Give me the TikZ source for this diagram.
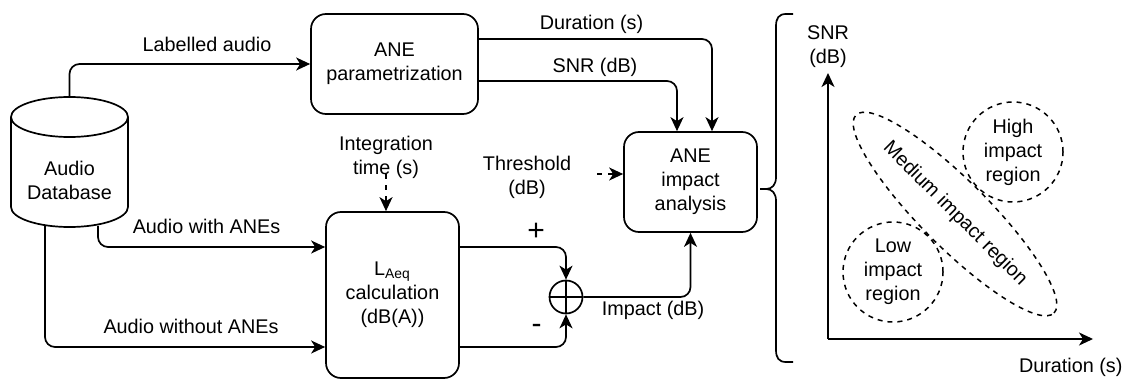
\documentclass[tikz,border=0pt]{standalone}
\usepackage{fontspec}
\setmainfont{Liberation Sans}
\usetikzlibrary{calc, positioning, arrows.meta, shapes.geometric}

\tikzset{
  box/.style={draw, rounded corners=7.5pt, align=center, inner sep=0pt},
  flow/.style={-{Stealth[length=7pt, width=6.5pt, inset=2pt]}, rounded corners=5pt},
  dflow/.style={flow, dash pattern=on 2.5pt off 3pt},
  region/.style={draw, dash pattern=on 2.5pt off 2.5pt, line width=0.75pt, align=center, inner sep=0pt},
  lbl/.style={anchor=base, inner sep=0pt},
  sign/.style={inner sep=0pt, font=\fontsize{15}{17}\selectfont},
}

\begin{document}
\begin{tikzpicture}[x=0.5pt, y=-0.5pt, line width=0.85pt, font=\fontsize{9.9}{12}\selectfont]

  \useasboundingbox (0,0) rectangle (1127,379);

  % database
  \draw[fill=white] (11,117) -- (11,207) arc[start angle=180, end angle=0, x radius=58.5, y radius=20] -- (128,117);
  \draw (69.5,117) ellipse[x radius=58.5, y radius=20];
  \node[minimum width=58.5pt, minimum height=65pt, inner sep=0pt,
        label={[align=center, yshift=-9pt]center:{Audio\\Database}}] (db) at (69.5,162) {};

  % blocks
  \node[box, minimum width=83.5pt, minimum height=50pt] (param) at (394.5,64) {ANE\\parametrization};
  \node[box, minimum width=66.5pt, minimum height=83pt] (laeq) at (392.5,295) {L\textsubscript{Aeq}\\calculation\\(dB(A))};
  \node[box, minimum width=66.5pt, minimum height=50pt] (ana) at (690.5,182) {ANE\\impact\\analysis};
  \node[draw, circle, minimum size=16.5pt, inner sep=0pt] (sum) at (566,297) {};
  \draw (sum.north) -- (sum.south) (sum.west) -- (sum.east);

  % inputs
  \node[align=center, inner sep=0pt] (integ) at (386,157) {Integration\\time (s)};
  \node[align=center, inner sep=0pt] (thr) at (527,177) {Threshold\\(dB)};
  \coordinate (thr-end) at (597,174);

  \draw[dflow] (integ.south) ++(0,-5) -- (integ.south |- laeq.north);
  \draw[dflow] (thr-end) -- (thr-end -| ana.west);

  % audio paths
  \draw[flow] (db.north) |- (param.west);
  \draw[flow] ($(db.south)+(28.5,-2)$) |- ($(laeq.west)+(0,-48)$);
  \draw[flow] ($(db.south)+(-24.5,-2)$) |- ($(laeq.west)+(0,52)$);
  \node[lbl] (lbl-labelled) at (207,52) {Labelled audio};
  \node[lbl] (lbl-with) at (206.5,233) {Audio with ANEs};
  \node[lbl] (lbl-without) at (191,333) {Audio without ANEs};

  % parameters
  \draw[flow] ($(param.east)+(0,-25)$) -| ($(ana.north)+(21.5,0)$);
  \draw[flow] ($(param.east)+(0,17)$) -| ($(ana.north)+(-13.5,0)$);
  \node[lbl] (lbl-dur) at (591.5,30) {Duration (s)};
  \node[lbl] (lbl-snr) at (595,73) {SNR (dB)};

  % difference
  \draw[flow] ($(laeq.east)+(0,-48)$) -| (sum.north);
  \draw[flow] ($(laeq.east)+(0,52)$) -| (sum.south);
  \draw[flow] (sum.east) -| (ana.south);
  \node[sign] (plus) at (536,232) {+};
  \node[sign] (minus) at (536.5,329) {-};
  \node[lbl] (lbl-impact) at (653,315) {Impact (dB)};

  % brace
  \draw (793,14) -- (786,14) .. controls (779,14) and (776,18) .. (776,26) -- (776,177)
        .. controls (776,185) and (772,189) .. (766,189) -- (760,189);
  \draw (766,189) .. controls (772,189) and (776,193) .. (776,201) -- (776,350)
        .. controls (776,358) and (779,362) .. (786,362) -- (793,362);

  % impact plane
  \coordinate (origin) at (828,339);
  \coordinate (snr-tip) at (828,73);
  \coordinate (dur-tip) at (1093,339);
  \draw[flow] (origin) -- (snr-tip);
  \draw[flow] (origin) -- (dur-tip);
  \node[align=center, inner sep=0pt] (ax-snr) at (828,47) {SNR\\(dB)};
  \node[lbl] (ax-dur) at (1070.7,372) {Duration (s)};

  \node[region, circle, minimum size=50pt] (low) at (893,272) {Low\\impact\\region};
  \node[region, circle, minimum size=50pt] (high) at (1013,152) {High\\impact\\region};
  \node[region, ellipse, minimum width=140pt, minimum height=33.5pt, rotate=-45] (medium) at (955,214) {Medium impact region};

\end{tikzpicture}
\end{document}
